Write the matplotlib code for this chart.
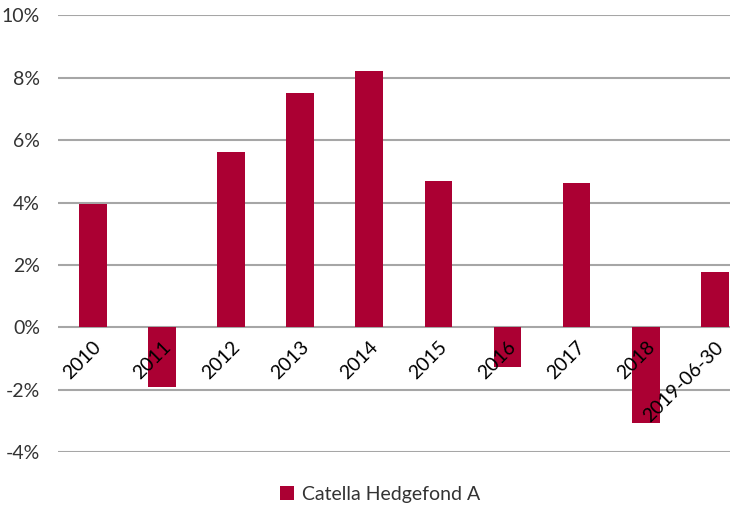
import numpy as np
import matplotlib.pyplot as plt
from matplotlib.ticker import FuncFormatter

plt.rcParams['font.family'] = ['Lato', 'DejaVu Sans']

categories = ["2010", "2011", "2012", "2013", "2014", "2015", "2016", "2017", "2018", "2019-06-30"]
returns = [3.97, -1.90, 5.63, 7.52, 8.23, 4.69, -1.25, 4.63, -3.05, 1.77]
series_name = "Catella Hedgefond A"

bar_color = "#ab0033"
grid_color = "#a6a6a6"
text_color = "#333333"

fig = plt.figure(figsize=(7.45, 5.14), dpi=100)
ax = fig.add_axes([0.078, 0.12, 0.902, 0.85])

x = np.arange(len(categories))
ax.bar(x, returns, width=0.4, color=bar_color, label=series_name, zorder=2)

# the source chart is clipped on the right, so the last slot is narrower
ax.set_xlim(-0.5, 9.22)
ax.set_ylim(-4, 10)
ax.set_yticks(np.arange(-4, 11, 2))
ax.yaxis.set_major_formatter(FuncFormatter(lambda v, _: f"{v:.0f}%"))
ax.grid(axis="y", color=grid_color, linewidth=1.5)
ax.yaxis.set_zorder(0.5)
ax.xaxis.set_zorder(4)

for s in ax.spines.values():
    s.set_visible(False)
ax.spines["bottom"].set_position(("data", 0))

ax.set_xticks(x)
ax.set_xticklabels(categories, rotation=45, ha="right", rotation_mode="anchor")
ax.tick_params(axis="x", length=0, pad=8, labelsize=14, colors="black")
ax.tick_params(axis="y", length=0, pad=13, labelsize=14, colors=text_color)

fig.legend(loc="lower center", bbox_to_anchor=(0.51, -0.012), frameon=False,
           fontsize=14, handlelength=0.7, handleheight=0.7, handletextpad=0.4,
           labelcolor=text_color)

fig.savefig("out.png", dpi=100)
